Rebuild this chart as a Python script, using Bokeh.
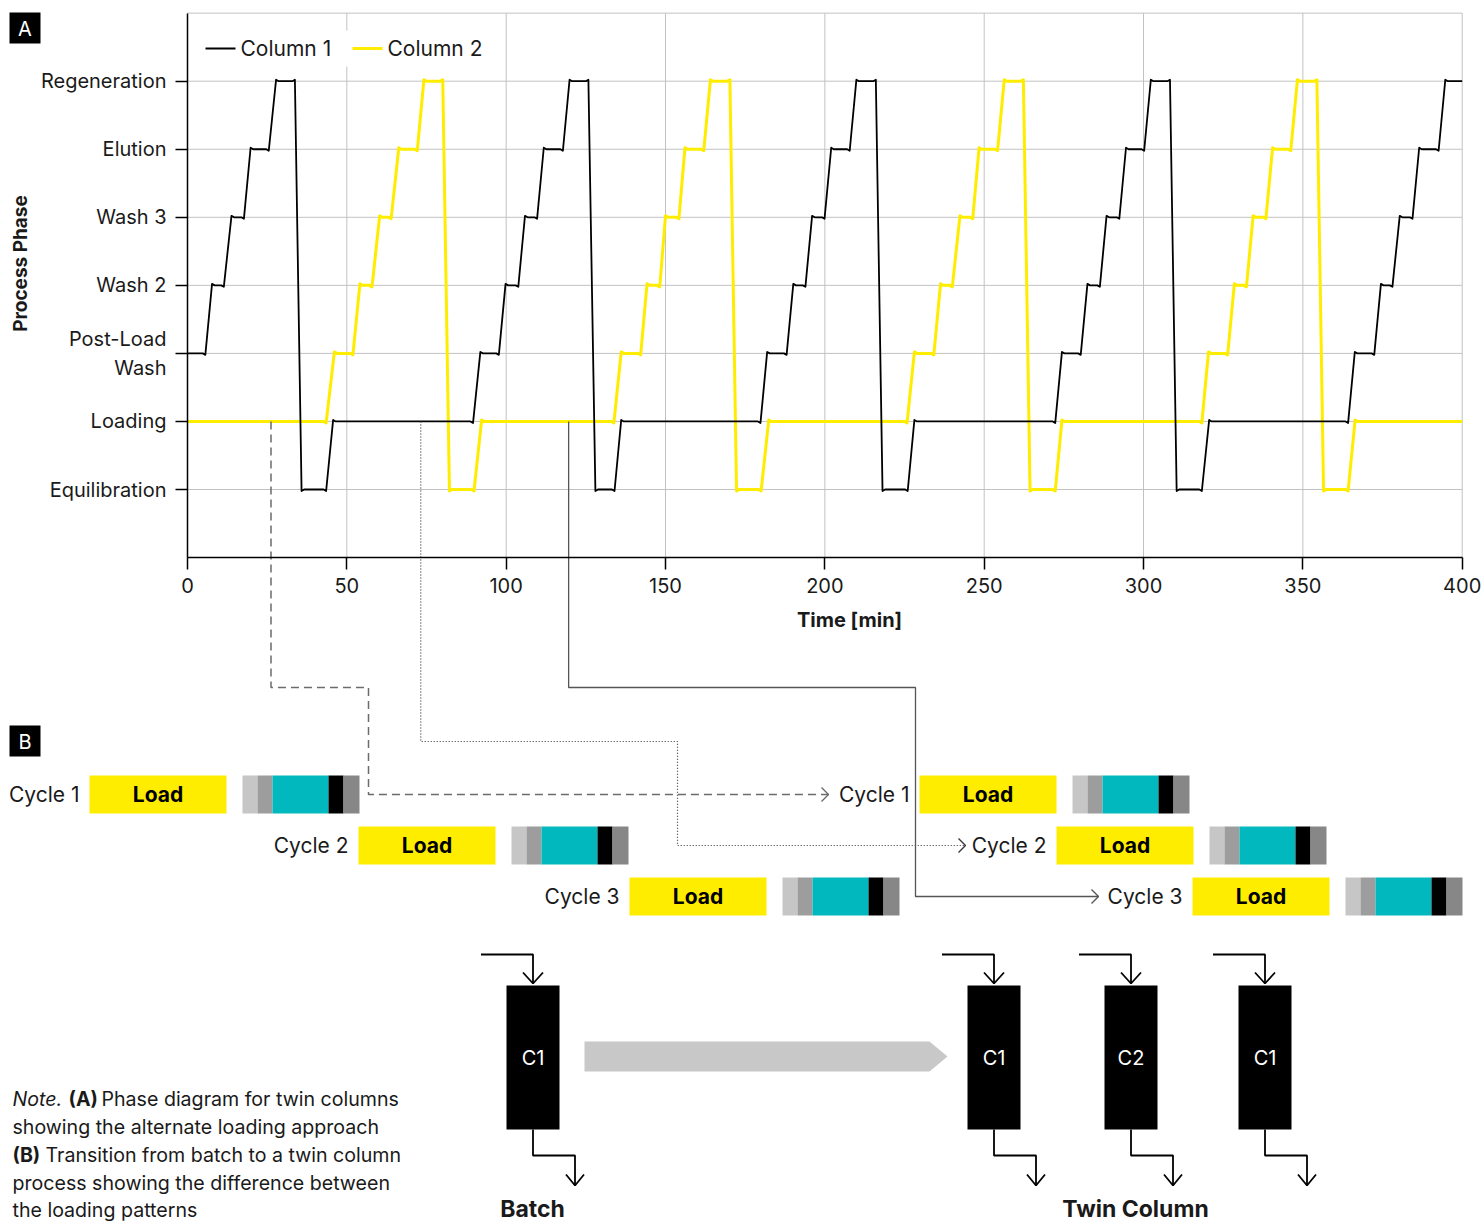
from math import pi
from bokeh.plotting import figure
from bokeh.models import Range1d, LinearAxis, FixedTicker
from bokeh.core.properties import value
from bokeh.embed import file_html
from bokeh.resources import INLINE

# ---------------- DATA ----------------
phase_names = ["Equilibration", "Loading", "Post-Load\nWash", "Wash 2", "Wash 3", "Elution", "Regeneration"]
x_ticks = [0, 50, 100, 150, 200, 250, 300, 350, 400]

# Column 1: plateau phase index, plateau start [min], plateau end [min]
col1_phase = [2, 3, 4, 5, 6, 0, 1,
              2, 3, 4, 5, 6, 0, 1,
              2, 3, 4, 5, 6, 0, 1,
              2, 3, 4, 5, 6, 0, 1,
              2, 3, 4, 5, 6]
col1_start = [0.0, 7.7, 13.8, 19.8, 27.8, 35.8, 45.7,
              91.9, 99.8, 105.9, 111.8, 119.9, 128.0, 136.1,
              181.9, 190.1, 196.0, 202.0, 209.9, 218.1, 228.1,
              274.4, 282.4, 288.4, 294.5, 302.3, 310.4, 320.6,
              366.3, 374.5, 380.4, 386.5, 394.7]
col1_end = [5.6, 11.4, 17.7, 25.5, 33.7, 43.5, 89.6,
            97.7, 103.8, 109.7, 117.8, 125.8, 134.0, 179.8,
            188.0, 193.9, 199.9, 207.8, 216.0, 226.0, 272.3,
            280.3, 286.3, 292.4, 300.2, 308.3, 318.3, 364.2,
            372.4, 378.1, 384.4, 392.6, 400.0]

# Column 2
col2_phase = [1, 2, 3, 4, 5, 6, 0,
              1, 2, 3, 4, 5, 6, 0,
              1, 2, 3, 4, 5, 6, 0,
              1, 2, 3, 4, 5, 6, 0,
              1]
col2_start = [0.0, 46.1, 54.1, 60.3, 66.3, 74.2, 82.2,
              92.3, 136.1, 144.2, 150.0, 156.1, 164.1, 172.3,
              182.4, 228.1, 236.3, 242.4, 248.4, 256.3, 264.4,
              274.4, 320.4, 328.5, 334.4, 340.5, 348.3, 356.5,
              366.4]
col2_end = [43.5, 51.9, 57.9, 63.9, 72.1, 80.1, 89.9,
            133.8, 142.2, 148.2, 154.2, 162.0, 170.2, 180.0,
            225.8, 234.2, 240.0, 246.4, 254.2, 262.3, 272.3,
            318.3, 326.4, 332.3, 338.4, 346.2, 354.4, 364.2,
            400.0]

series_names = ["Column 1", "Column 2"]
cycle_labels = ["Cycle 1", "Cycle 2", "Cycle 3"]
connector_times = [26.2, 73.2, 119.6]   # where the three loads are marked on the time axis
column_labels_batch = ["C1"]
column_labels_twin = ["C1", "C2", "C1"]
note_lines = ["showing the alternate loading approach",
              "process showing the difference between",
              "the loading patterns"]

# ---------------- LAYOUT ----------------
FONT = "Inter"
TXT = "#1a1a1a"
YELLOW = "#FFED00"
GRID = "#c2c2c2"
W, H = 1483, 1224
PAGE = 0
T0_PX, T400_PX = 187.0, 1461.7
PH0_PY, PH6_PY = 489.0, 80.7
sx = (T400_PX - T0_PX) / 400.0
sy = (PH0_PY - PH6_PY) / 6.0


def t_of(px):
    return (px - T0_PX) / sx


def ph_of(py):
    return (PH0_PY - py) / sy


def tx(t):
    return T0_PX + t * sx


p = figure(width=W, height=H,
           x_range=Range1d(t_of(PAGE), t_of(PAGE + W)),
           y_range=Range1d(ph_of(PAGE + H), ph_of(PAGE)),
           output_backend="svg", toolbar_location=None,
           x_axis_type=None, y_axis_type=None, min_border=0,
           outline_line_color=None, background_fill_color="white",
           border_fill_color="white")
p.extra_x_ranges = {"px": Range1d(PAGE, PAGE + W)}
p.extra_y_ranges = {"py": Range1d(PAGE + H, PAGE)}
PX = dict(x_range_name="px", y_range_name="py")

# grid (limited to the chart area)
vx = [t for t in x_ticks if t > 0]
p.segment(x0=vx, x1=vx, y0=[-1] * len(vx), y1=[7] * len(vx), line_color=GRID, line_width=1)
hy = list(range(len(phase_names))) + [7]
p.segment(x0=[0] * len(hy), x1=[400] * len(hy), y0=hy, y1=hy, line_color=GRID, line_width=1)

# axes
xaxis = LinearAxis(fixed_location=-1, bounds=(0, 400), ticker=FixedTicker(ticks=x_ticks),
                   major_tick_out=12, major_tick_in=0, minor_tick_out=0, minor_tick_in=0,
                   major_label_standoff=8, axis_line_color="black", axis_line_width=1.5,
                   major_tick_line_color="black", major_tick_line_width=1.5,
                   major_label_text_font=FONT, major_label_text_font_size="20px",
                   major_label_text_color=TXT)
p.add_layout(xaxis, "below")
yaxis = LinearAxis(fixed_location=0, bounds=(-1, 7), ticker=FixedTicker(ticks=list(range(7))),
                   major_label_overrides={i: n for i, n in enumerate(phase_names)},
                   major_tick_out=12, major_tick_in=0, minor_tick_out=0, minor_tick_in=0,
                   major_label_standoff=9, axis_line_color="black", axis_line_width=1.5,
                   major_tick_line_color="black", major_tick_line_width=1.5,
                   major_label_text_font=FONT, major_label_text_font_size="20px",
                   major_label_text_color=TXT)
p.add_layout(yaxis, "left")


def build(phases, starts, ends, a=0.022, r=0.8):
    xs, ys = [], []
    n = len(phases)
    for i in range(n):
        L, s, e = phases[i], starts[i], ends[i]
        if i > 0:
            d = 1 if L > phases[i - 1] else -1
            xs += [s, s + r]
            ys += [L + a * d, L]
        else:
            xs.append(s); ys.append(L)
        if i < n - 1:
            d = 1 if phases[i + 1] > L else -1
            xs += [e - r, e]
            ys += [L, L - a * d]
        else:
            xs.append(e); ys.append(L)
    return xs, ys


x2, y2 = build(col2_phase, col2_start, col2_end)
x1, y1 = build(col1_phase, col1_start, col1_end)
p.line(x2, y2, line_color=YELLOW, line_width=3, line_join="round")
p.line(x1, y1, line_color="black", line_width=1.8, line_join="round")

# legend (drawn)
p.quad(left=[197], right=[492], top=[30], bottom=[66], fill_color="white", line_color=None, **PX)
p.segment(x0=[205, 352], x1=[235, 382], y0=[48, 48], y1=[48, 48],
          line_color=["black", YELLOW], line_width=[2, 3], **PX)
p.text(x=[240, 387], y=[48, 48], text=series_names, text_align="left", text_baseline="middle",
       text_font=value(FONT), text_font_size="21px", text_color=TXT, **PX)

# axis titles
p.text(x=[20], y=[263], text=["Process Phase"], angle=pi / 2, text_align="center",
       text_baseline="middle", text_font=value(FONT), text_font_size="19px",
       text_font_style="bold", text_color=TXT, **PX)
p.text(x=[849], y=[619], text=["Time [min]"], text_align="center", text_baseline="middle",
       text_font=value(FONT), text_font_size="20px", text_font_style="bold", text_color=TXT, **PX)

# panel letters
p.quad(left=[9, 9], right=[40, 40], top=[12, 725], bottom=[43, 756], fill_color="black",
       line_color=None, **PX)
p.text(x=[24.5, 24.5], y=[28, 741], text=["A", "B"], text_align="center", text_baseline="middle",
       text_font=value(FONT), text_font_size="20px", text_color="white", **PX)

# ---------------- PANEL B: cycles ----------------
row_y = [794, 845, 896]
BOX_H = 38
LOAD_W = 137
stack_w = [15, 15, 56, 15, 16]
stack_c = ["#c6c6c6", "#9d9d9d", "#00b8be", "#000000", "#878787"]
batch_x = [89, 358, 629]
twin_x = [919, 1056, 1192]

for xs0 in (batch_x, twin_x):
    p.quad(left=xs0, right=[x + LOAD_W for x in xs0], top=[y - BOX_H / 2 for y in row_y],
           bottom=[y + BOX_H / 2 for y in row_y], fill_color=YELLOW, line_color=None, **PX)
    p.text(x=[x + LOAD_W / 2 for x in xs0], y=row_y, text=["Load"] * 3, text_align="center",
           text_baseline="middle", text_font=value(FONT), text_font_size="21px",
           text_font_style="bold", text_color="black", **PX)
    p.text(x=[x - 10 for x in xs0], y=row_y, text=cycle_labels, text_align="right",
           text_baseline="middle", text_font=value(FONT), text_font_size="21px",
           text_color=TXT, **PX)
    L, R, T, B, C = [], [], [], [], []
    for x0, yc in zip(xs0, row_y):
        cur = x0 + LOAD_W + 16
        for w, c in zip(stack_w, stack_c):
            L.append(cur); R.append(cur + w); T.append(yc - BOX_H / 2); B.append(yc + BOX_H / 2)
            C.append(c)
            cur += w
    p.quad(left=L, right=R, top=T, bottom=B, fill_color=C, line_color=None, **PX)

# connectors from panel A to panel B
load_py = PH0_PY - 1 * sy
cx = [tx(t) for t in connector_times]
paths = [
    ([cx[0], cx[0], 368, 368, 828], [load_py, 687, 687, row_y[0], row_y[0]]),
    ([cx[1], cx[1], 677, 677, 965], [load_py, 741, 741, row_y[1], row_y[1]]),
    ([cx[2], cx[2], 915, 915, 1098], [load_py, 687, 687, row_y[2], row_y[2]]),
]
styles = [dict(line_color="#6b6b6b", line_width=1.5, line_dash="8 5"),
          dict(line_color="#333333", line_width=1.2, line_dash="1 2"),
          dict(line_color="#555555", line_width=1.3, line_dash="solid")]
for (xs_, ys_), st in zip(paths, styles):
    p.line(xs_, ys_, **st, **PX)
    ex, ey = xs_[-1], ys_[-1]
    p.line([ex - 7, ex, ex - 7], [ey - 7, ey, ey + 7], line_color=st["line_color"],
           line_width=1.4, **PX)

# ---------------- PANEL B: columns ----------------
col_cx = [532.5, 993.5, 1130.5, 1264.5]
col_lbl = column_labels_batch + column_labels_twin
p.quad(left=[c - 26.5 for c in col_cx], right=[c + 26.5 for c in col_cx],
       top=[985] * 4, bottom=[1129] * 4, fill_color="black", line_color=None, **PX)
p.text(x=col_cx, y=[1057] * 4, text=col_lbl, text_align="center", text_baseline="middle",
       text_font=value(FONT), text_font_size="20px", text_color="white", **PX)
mx, my = [], []
for c in col_cx:
    mx += [[c - 52, c, c], [c - 10, c, c + 10],
           [c, c, c + 42, c + 42], [c + 33, c + 42, c + 51]]
    my += [[954, 954, 983], [972, 983, 972],
           [1129, 1155, 1155, 1185], [1174, 1185, 1174]]
p.multi_line(mx, my, line_color="black", line_width=1.8, **PX)
p.patch([584, 929, 947, 929, 584], [1041, 1041, 1056, 1071, 1071], fill_color="#c8c8c8",
        line_color=None, **PX)
p.text(x=[532, 1135], y=[1208, 1208], text=["Batch", "Twin Column"], text_align="center",
       text_baseline="middle", text_font=value(FONT), text_font_size="23px",
       text_font_style="bold", text_color=TXT, **PX)

# note (block nudged up slightly so its last line stays inside the page)
NFS = "19.6px"
NY = [1098, 1126, 1154, 1182, 1209]
p.text(x=[12], y=[NY[0]], text=["Note."], text_font_style="italic", text_baseline="middle",
       text_font=value(FONT), text_font_size=NFS, text_color=TXT, **PX)
p.text(x=[68, 12], y=[NY[0], NY[2]], text=["(A)", "(B)"], text_font_style="bold",
       text_baseline="middle", text_font=value(FONT), text_font_size=NFS, text_color=TXT, **PX)
p.text(x=[101, 45], y=[NY[0], NY[2]],
       text=["Phase diagram for twin columns", "Transition from batch to a twin column"],
       text_baseline="middle", text_font=value(FONT), text_font_size=NFS, text_color=TXT, **PX)
p.text(x=[12, 12, 12], y=[NY[1], NY[3], NY[4]], text=note_lines, text_baseline="middle",
       text_font=value(FONT), text_font_size=NFS, text_color=TXT, **PX)

open("out.html", "w").write(file_html(p, INLINE))
